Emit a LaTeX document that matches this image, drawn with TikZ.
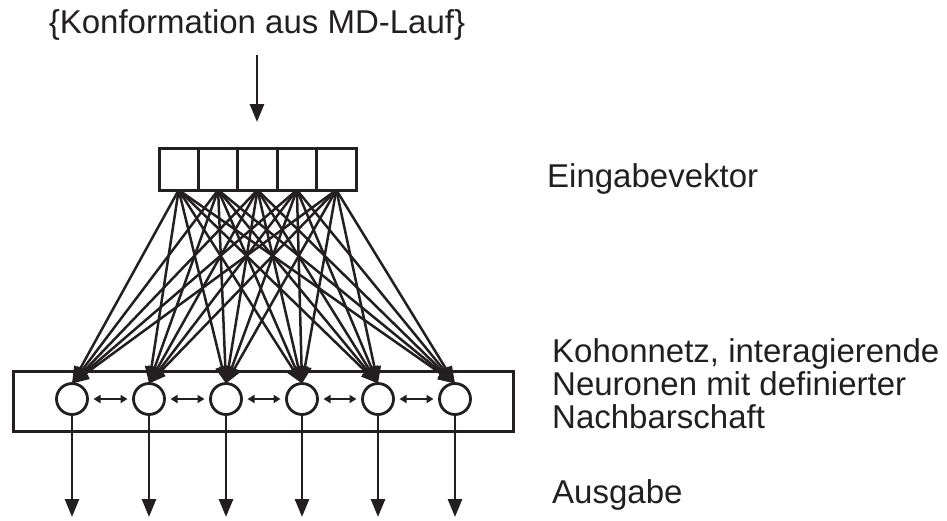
\documentclass[tikz,border=0pt]{standalone}
\usepackage{fontspec}
\setmainfont{Liberation Sans}
\usetikzlibrary{arrows.meta}
\definecolor{ink}{RGB}{35,31,32}
\begin{document}
\begin{tikzpicture}[x=1pt,y=-1pt, color=ink,
  lbl/.style={font=\fontsize{33}{33}\selectfont, inner sep=0pt, anchor=base west, text=ink},
  inbox/.style={draw=ink, line width=3pt, minimum width=39.4pt, minimum height=42pt, inner sep=0pt, outer sep=0pt},
  neuron/.style={draw=ink, circle, line width=2.8pt, minimum size=31pt, inner sep=0pt, outer sep=0pt},
  layer/.style={draw=ink, line width=3pt, minimum width=500pt, minimum height=60pt, inner sep=0pt},
  arr/.style={draw=ink, -{Triangle[length=18pt,width=14pt]}, line width=2.8pt},
  fan/.style={draw=ink, -{Triangle[length=17pt,width=13pt]}, line width=2.5pt},
  dbl/.style={draw=ink, {Triangle[length=7pt,width=8pt]}-{Triangle[length=7pt,width=8pt]}, line width=2.2pt, shorten >=6pt, shorten <=6pt}
]
\useasboundingbox (0,0) rectangle (947,520);
% title and input arrow
\node[lbl, anchor=base] (title) at (257,33) {\{Konformation aus MD-Lauf\}};
\coordinate (ta) at (257,55);
\coordinate (tb) at (257,122);
\draw[arr] (ta) -- (tb);
% input vector
\foreach \i/\x in {1/178.7,2/218.1,3/257.5,4/296.9,5/336.3}
  \node[inbox] (i\i) at (\x,169) {};
% Kohonen layer
\node[layer] (layer) at (263,401) {};
\foreach \j/\x in {1/72,2/149,3/226,4/302,5/378,6/455}
  \node[neuron, fill=white] (n\j) at (\x,399) {};
% fan connections
\foreach \i in {1,...,5}
  \foreach \j in {1,...,6}
    \draw[fan] (i\i.south) -- (n\j.north);
% neighbour interactions
\foreach \a/\b in {1/2,2/3,3/4,4/5,5/6}
  \draw[dbl] (n\a) -- (n\b);
% outputs
\foreach \j/\x in {1/72,2/149,3/226,4/302,5/378,6/455} {
  \coordinate (o\j) at (\x,517);
  \draw[arr] (n\j) -- (o\j);
}
% labels
\node[lbl] (l1) at (547,187) {Eingabevektor};
\node[lbl] (l2) at (552,362) {Kohonnetz, interagierende};
\node[lbl] (l3) at (552,395) {Neuronen mit definierter};
\node[lbl] (l4) at (552,428) {Nachbarschaft};
\node[lbl] (l5) at (552,503) {Ausgabe};
\end{tikzpicture}
\end{document}
